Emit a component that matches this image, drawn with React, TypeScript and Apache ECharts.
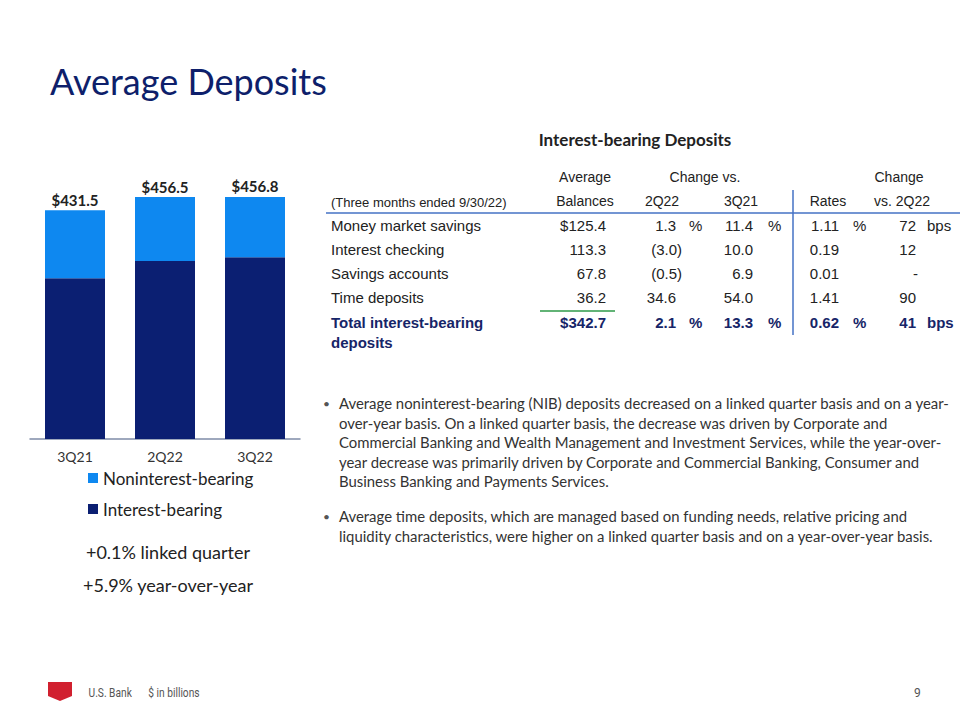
import React, { useEffect, useRef } from "react";
import * as echarts from "echarts";

const categories = ["3Q21", "2Q22", "3Q22"];
const interestBearing = [303.4, 336.0, 342.7];
const nonInterestBearing = [128.1, 120.5, 114.1];
const totals = [431.5, 456.5, 456.8];

const rowLabels = ["Money market savings", "Interest checking", "Savings accounts", "Time deposits"];
const avgBalances = ["$125.4", "113.3", "67.8", "36.2"];
const chg2Q22 = ["1.3", "(3.0)", "(0.5)", "34.6"];
const chg3Q21 = ["11.4", "10.0", "6.9", "54.0"];
const ratesCol = ["1.11", "0.19", "0.01", "1.41"];
const rateChg = ["72", "12", "-", "90"];
const totalRow = ["$342.7", "2.1", "13.3", "0.62", "41"];

const bullet1 = [
  "Average noninterest-bearing (NIB) deposits decreased on a linked quarter basis and on a year-",
  "over-year basis. On a linked quarter basis, the decrease was driven by Corporate and",
  "Commercial Banking and Wealth Management and Investment Services, while the year-over-",
  "year decrease was primarily driven by Corporate and Commercial Banking, Consumer and",
  "Business Banking and Payments Services.",
];
const bullet2 = [
  "Average time deposits, which are managed based on funding needs, relative pricing and",
  "liquidity characteristics, were higher on a linked quarter basis and on a year-over-year basis.",
];

const NAVY = "#0B1F72";
const LIGHT = "#0E88F0";
const TITLE = "#0E1F6B";
const TOTAL_C = "#162568";

function txt(x: number, y: number, text: string, opts: any = {}) {
  const align = opts.align || "left";
  return {
    type: "text",
    x,
    y,
    silent: true,
    style: {
      text,
      fill: opts.fill || "#222",
      fontSize: opts.size || 14,
      fontFamily: opts.family || "Liberation Sans",
      fontWeight: opts.weight || "normal",
      align,
      textAlign: align,
      verticalAlign: "middle",
      textVerticalAlign: "middle",
    },
  };
}

export default function App() {
  const ref = useRef<HTMLDivElement>(null);
  useEffect(() => {
    if (!ref.current) return;
    const chart = echarts.init(ref.current, null, { renderer: "svg" });

    const g: any[] = [];
    // Title
    g.push(txt(50, 81, "Average Deposits", { size: 36, family: "Lato", fill: TITLE }));
    // Table title
    g.push(txt(635, 139, "Interest-bearing Deposits", { size: 17, family: "Lato", weight: "bold", fill: "#222", align: "center" }));

    const hf = { size: 14, family: "Liberation Sans", fill: "#222", align: "center" };
    g.push(txt(585, 177, "Average", hf));
    g.push(txt(585, 201, "Balances", hf));
    g.push(txt(705, 177, "Change vs.", hf));
    g.push(txt(662, 201, "2Q22", hf));
    g.push(txt(741, 201, "3Q21", hf));
    g.push(txt(828, 201, "Rates", hf));
    g.push(txt(899, 177, "Change", hf));
    g.push(txt(902, 201, "vs. 2Q22", hf));
    g.push(txt(331, 202, "(Three months ended 9/30/22)", { size: 13, family: "Liberation Sans", fill: "#222" }));

    // header line
    g.push({ type: "line", silent: true, shape: { x1: 326, y1: 213, x2: 960, y2: 213 }, style: { stroke: "#4472C4", lineWidth: 1.5 } });
    // vertical line
    g.push({ type: "line", silent: true, shape: { x1: 793, y1: 190, x2: 793, y2: 335 }, style: { stroke: "#4472C4", lineWidth: 1.5 } });
    // green underline
    g.push({ type: "line", silent: true, shape: { x1: 540, y1: 311, x2: 615, y2: 311 }, style: { stroke: "#2E9A48", lineWidth: 1.5 } });

    const rowY = [225, 249, 273, 297.5];
    const rf = { size: 15, family: "Liberation Sans", fill: "#222" };
    const paren = (s: string, x: number) => (s.endsWith(")") ? x + 6 : x);
    rowLabels.forEach((lab, i) => {
      const y = rowY[i];
      g.push(txt(331, y, lab, rf));
      g.push(txt(606, y, avgBalances[i], { ...rf, align: "right" }));
      g.push(txt(paren(chg2Q22[i], 676), y, chg2Q22[i], { ...rf, align: "right" }));
      g.push(txt(753, y, chg3Q21[i], { ...rf, align: "right" }));
      g.push(txt(839, y, ratesCol[i], { ...rf, align: "right" }));
      g.push(txt(rateChg[i] === "-" ? 918 : 916, y, rateChg[i], { ...rf, align: "right" }));
      if (i === 0) {
        g.push(txt(689, y, "%", rf));
        g.push(txt(768, y, "%", rf));
        g.push(txt(853, y, "%", rf));
        g.push(txt(927, y, "bps", rf));
      }
    });
    const tf = { size: 15, family: "Liberation Sans", fill: TOTAL_C, weight: "bold" };
    g.push(txt(331, 322.5, "Total interest-bearing", tf));
    g.push(txt(331, 342, "deposits", tf));
    g.push(txt(606, 322.5, totalRow[0], { ...tf, align: "right" }));
    g.push(txt(676, 322.5, totalRow[1], { ...tf, align: "right" }));
    g.push(txt(753, 322.5, totalRow[2], { ...tf, align: "right" }));
    g.push(txt(839, 322.5, totalRow[3], { ...tf, align: "right" }));
    g.push(txt(916, 322.5, totalRow[4], { ...tf, align: "right" }));
    g.push(txt(689, 322.5, "%", tf));
    g.push(txt(768, 322.5, "%", tf));
    g.push(txt(853, 322.5, "%", tf));
    g.push(txt(927, 322.5, "bps", tf));

    // bullets
    const bf = { size: 14.9, family: "Lato", fill: "#333" };
    const b1Y = [403, 422.5, 442, 461.5, 481];
    bullet1.forEach((l, i) => g.push(txt(339, b1Y[i], l, bf)));
    const b2Y = [516, 535.5];
    bullet2.forEach((l, i) => g.push(txt(339, b2Y[i], l, bf)));
    g.push(txt(323, 403, "•", { ...bf, size: 12, fill: "#555" }));
    g.push(txt(323, 516, "•", { ...bf, size: 12, fill: "#555" }));

    // change notes
    g.push(txt(168, 552, "+0.1% linked quarter", { size: 18, family: "Lato", fill: "#222", align: "center" }));
    g.push(txt(168, 585, "+5.9% year-over-year", { size: 18, family: "Lato", fill: "#222", align: "center" }));

    // footer
    g.push({
      type: "polygon",
      silent: true,
      shape: { points: [[48, 682], [72, 682], [72, 696], [60, 701], [48, 696]] },
      style: { fill: "#D1202F" },
    });
    g.push({ ...txt(77, 693, "U.S. Bank", { size: 12, family: "Roboto", fill: "#555" }), scaleX: 0.85, originX: 77 });
    g.push({ ...txt(129, 693, "$ in billions", { size: 12, family: "Roboto", fill: "#555" }), scaleX: 0.85, originX: 129 });
    g.push({ ...txt(914, 693, "9", { size: 12, family: "Roboto", fill: "#555" }) });

    chart.setOption({
      animation: false,
      backgroundColor: "#fff",
      grid: { left: 30, right: 660, top: 174, bottom: 281, containLabel: false },
      legend: {
        data: ["Noninterest-bearing", "Interest-bearing"],
        orient: "vertical",
        left: 88,
        top: 468,
        padding: 0,
        itemWidth: 10,
        itemHeight: 10,
        itemGap: 11,
        icon: "rect",
        selectedMode: false,
        textStyle: { fontSize: 17, fontFamily: "Lato", color: "#222", lineHeight: 20 },
      },
      xAxis: {
        type: "category",
        data: categories,
        axisLine: { show: true, lineStyle: { color: "#7F8CA8", width: 1.5 } },
        axisTick: { show: false },
        axisLabel: { fontSize: 14, fontFamily: "Lato", color: "#333", margin: 10 },
      },
      yAxis: {
        type: "value",
        min: 0,
        max: 500,
        show: false,
        splitLine: { show: false },
      },
      series: [
        {
          name: "Interest-bearing",
          type: "bar",
          stack: "total",
          data: interestBearing,
          barWidth: 60,
          itemStyle: { color: NAVY },
        },
        {
          name: "Noninterest-bearing",
          type: "bar",
          stack: "total",
          data: nonInterestBearing,
          barWidth: 60,
          itemStyle: { color: LIGHT },
          label: {
            show: true,
            position: "top",
            distance: 3,
            fontSize: 15,
            fontWeight: "bold",
            fontFamily: "Lato",
            color: "#222",
            formatter: (p: any) => "$" + totals[p.dataIndex].toFixed(1),
          },
        },
      ],
      graphic: g,
    });
    return () => chart.dispose();
  }, []);
  return <div ref={ref} style={{ position: "absolute", left: 0, top: 0, width: 960, height: 720 }} />;
}
